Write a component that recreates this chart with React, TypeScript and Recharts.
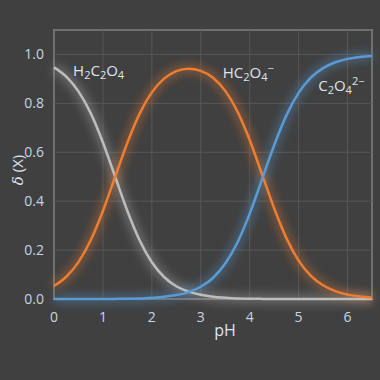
import React from "react";
import { LineChart, Line, XAxis, YAxis, CartesianGrid, ReferenceDot } from "recharts";

const pH = [0, 0.25, 0.5, 0.75, 1, 1.25, 1.5, 1.75, 2, 2.25, 2.5, 2.75, 3, 3.25, 3.5, 3.75, 4, 4.25, 4.5, 4.75, 5, 5.25, 5.5, 5.75, 6, 6.25, 6.5];
const h2c2o4 = [0.947, 0.909, 0.849, 0.760, 0.640, 0.500, 0.360, 0.240, 0.150, 0.090, 0.052, 0.030, 0.017, 0.009, 0.005, 0.002, 0.001, 0.0005, 0.0002, 0.0001, 0, 0, 0, 0, 0, 0, 0];
const hc2o4 = [0.053, 0.091, 0.151, 0.240, 0.360, 0.500, 0.639, 0.758, 0.845, 0.901, 0.932, 0.942, 0.933, 0.905, 0.851, 0.766, 0.650, 0.511, 0.371, 0.249, 0.157, 0.095, 0.056, 0.032, 0.018, 0.010, 0.006];
const c2o4 = [0, 0, 0, 0, 0.0002, 0.0005, 0.001, 0.002, 0.005, 0.009, 0.016, 0.028, 0.050, 0.086, 0.145, 0.231, 0.349, 0.488, 0.629, 0.751, 0.843, 0.905, 0.944, 0.968, 0.982, 0.990, 0.994];
const xTicks = [0, 1, 2, 3, 4, 5, 6];
const yTicks = [0, 0.2, 0.4, 0.6, 0.8, 1.0];

const data = pH.map((p, i) => ({ pH: p, a0: h2c2o4[i], a1: hc2o4[i], a2: c2o4[i] }));

const FONT = "'Open Sans', 'Noto Sans', sans-serif";
const TXT = "#dde5ee";
const TICK = "#c9d4e0";
const GRAY = "#bdbdbd";
const ORANGE = "#ed7d31";
const BLUE = "#5b9bd5";
const FRAME = "#8a8a8a";

const speciesLabels = [
  { x: 0.39, y: 0.91, key: "h2" },
  { x: 3.45, y: 0.905, key: "h1" },
  { x: 5.4, y: 0.85, key: "h0" },
];

function SpeciesText({ cx, cy, which }: any) {
  const big = 15;
  const small = 11;
  if (which === "h2") {
    return (
      <text x={cx} y={cy} fill={TXT} fontSize={big} fontFamily={FONT}>
        H<tspan fontSize={small} dy={3}>2</tspan>
        <tspan dy={-3}>C</tspan>
        <tspan fontSize={small} dy={3}>2</tspan>
        <tspan dy={-3}>O</tspan>
        <tspan fontSize={small} dy={3}>4</tspan>
      </text>
    );
  }
  if (which === "h1") {
    return (
      <text x={cx} y={cy} fill={TXT} fontSize={big} fontFamily={FONT}>
        HC<tspan fontSize={small} dy={3}>2</tspan>
        <tspan dy={-3}>O</tspan>
        <tspan fontSize={small} dy={3}>4</tspan>
        <tspan fontSize={small} dy={-9}>−</tspan>
      </text>
    );
  }
  return (
    <text x={cx} y={cy} fill={TXT} fontSize={big} fontFamily={FONT}>
      C<tspan fontSize={small} dy={3}>2</tspan>
      <tspan dy={-3}>O</tspan>
      <tspan fontSize={small} dy={3}>4</tspan>
      <tspan fontSize={small} dy={-9}>2−</tspan>
    </text>
  );
}

export default function App() {
  return (
    <div style={{ position: "absolute", left: 0, top: 0, width: 380, height: 380, background: "#404040" }}>
      <div
        style={{
          position: "absolute",
          left: 53,
          top: 29,
          width: 320,
          height: 271,
          border: `2px solid ${FRAME}`,
          boxSizing: "border-box",
        }}
      />
      <div style={{ position: "absolute", left: 0, top: 0 }}>
        <LineChart width={380} height={380} data={data} margin={{ top: 30, right: 8, bottom: 51, left: 0 }}>
          <defs>
            <filter id="glow" x="-20%" y="-20%" width="140%" height="140%">
              <feGaussianBlur stdDeviation="4.5" />
            </filter>
          </defs>
          <CartesianGrid stroke="#565656" strokeWidth={1} />
          <XAxis
            dataKey="pH"
            type="number"
            domain={[0, 6.5]}
            ticks={xTicks}
            tickLine={false}
            axisLine={false}
            tick={{ fill: TICK, fontSize: 14, fontFamily: FONT }}
            tickMargin={7}
            height={30}
            label={{
              content: ({ viewBox }: any) => (
                <text x={viewBox.x + 171} y={viewBox.y + 37} fill={TXT} fontSize={16} fontFamily={FONT} textAnchor="middle">
                  pH
                </text>
              ),
            }}
          />
          <YAxis
            type="number"
            domain={[0, 1.1]}
            ticks={yTicks}
            tickFormatter={(v: number) => v.toFixed(1)}
            tickLine={false}
            axisLine={false}
            tick={{ fill: TICK, fontSize: 14, fontFamily: FONT }}
            tickMargin={4}
            width={54}
            label={{
              content: ({ viewBox }: any) => (
                <text
                  x={0}
                  y={0}
                  transform={`translate(${viewBox.x + 23}, ${viewBox.y + 140}) rotate(-90)`}
                  fill={TXT}
                  fontSize={15}
                  fontFamily={FONT}
                  textAnchor="middle"
                >
                  <tspan fontStyle="italic" fontFamily="'DejaVu Serif', serif">δ</tspan>
                  <tspan> (X)</tspan>
                </text>
              ),
            }}
          />
          <Line dataKey="a0" type="monotone" stroke={GRAY} strokeWidth={10} strokeOpacity={0.32} dot={false} filter="url(#glow)" isAnimationActive={false} />
          <Line dataKey="a1" type="monotone" stroke={ORANGE} strokeWidth={10} strokeOpacity={0.32} dot={false} filter="url(#glow)" isAnimationActive={false} />
          <Line dataKey="a2" type="monotone" stroke={BLUE} strokeWidth={10} strokeOpacity={0.32} dot={false} filter="url(#glow)" isAnimationActive={false} />
          <Line dataKey="a0" type="monotone" stroke={GRAY} strokeWidth={2.5} dot={false} isAnimationActive={false} />
          <Line dataKey="a1" type="monotone" stroke={ORANGE} strokeWidth={2.5} dot={false} isAnimationActive={false} />
          <Line dataKey="a2" type="monotone" stroke={BLUE} strokeWidth={2.5} dot={false} isAnimationActive={false} />
          {speciesLabels.map((s) => (
            <ReferenceDot
              key={s.key}
              x={s.x}
              y={s.y}
              r={1}
              ifOverflow="visible"
              shape={(props: any) => <SpeciesText cx={props.cx} cy={props.cy} which={s.key} />}
            />
          ))}
        </LineChart>
      </div>
    </div>
  );
}
